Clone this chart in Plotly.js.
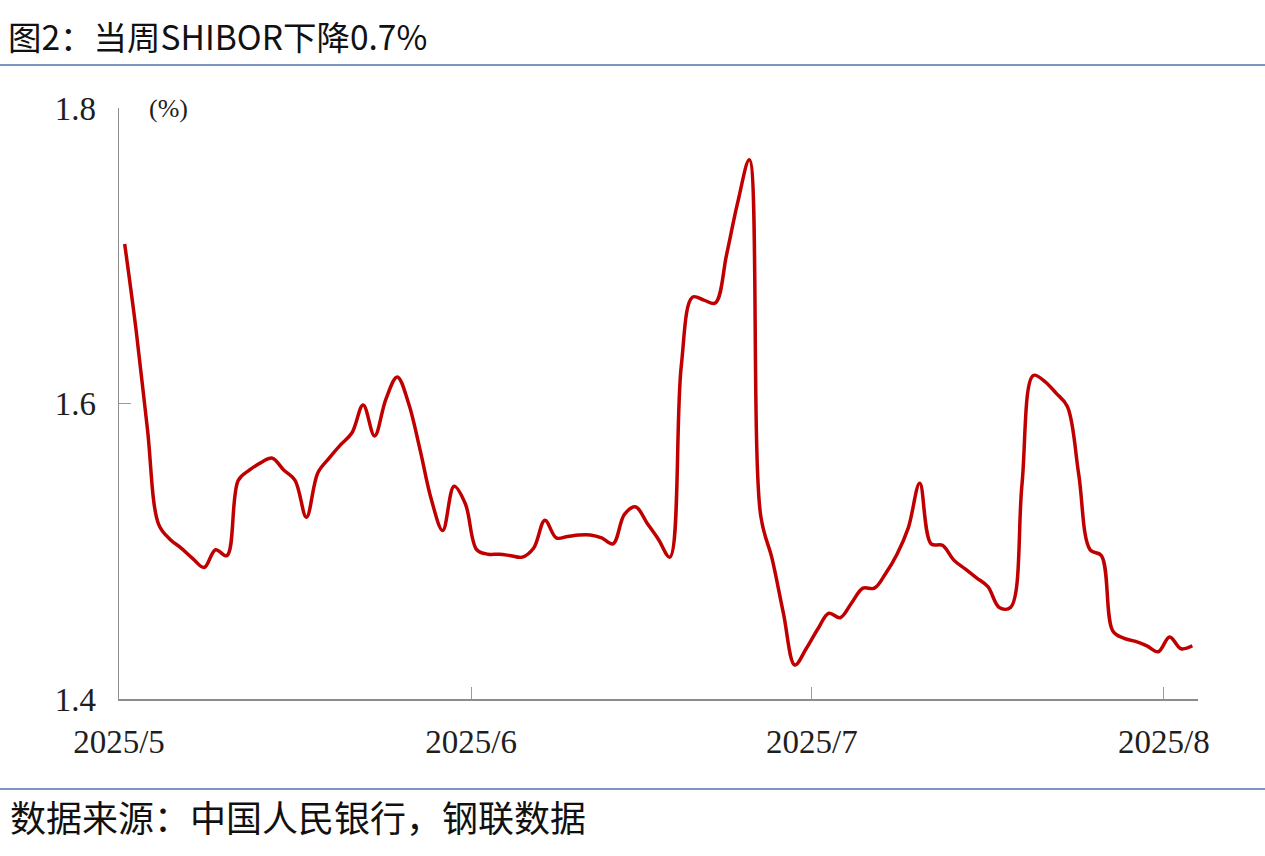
<!DOCTYPE html>
<html>
<head>
<meta charset="utf-8">
<script src="https://cdn.plot.ly/plotly-3.0.1.min.js"></script>
<style>
  html, body { margin: 0; padding: 0; background: #ffffff; }
  #chart { width: 1265px; height: 856px; }
</style>
</head>
<body>
<div id="chart"></div>
<script>
// ---- data (daily, 2025-05-01 .. 2025-08-03) ----
const startDate = '2025-05-01';
const shibor = [
  1.708, 1.650, 1.583, 1.518, 1.508, 1.502, 1.495, 1.489, 1.501, 1.497,
  1.548, 1.555, 1.560, 1.563, 1.555, 1.548, 1.523, 1.553, 1.563, 1.572,
  1.580, 1.599, 1.578, 1.603, 1.618, 1.600, 1.569, 1.535, 1.514, 1.544,
  1.532, 1.501, 1.498, 1.498, 1.497, 1.496, 1.502, 1.521, 1.509, 1.510,
  1.511, 1.511, 1.509, 1.505, 1.525, 1.530, 1.519, 1.508, 1.496, 1.625,
  1.672, 1.670, 1.668, 1.701, 1.737, 1.765, 1.524, 1.495, 1.458, 1.423,
  1.434, 1.447, 1.458, 1.455, 1.465, 1.475, 1.475, 1.485, 1.498, 1.516,
  1.546, 1.505, 1.504, 1.494, 1.488, 1.482, 1.476, 1.462, 1.462, 1.545,
  1.619, 1.615, 1.607, 1.598, 1.552, 1.501, 1.497, 1.446, 1.441, 1.439,
  1.436, 1.432, 1.442, 1.434, 1.436
];
const tickDates = ['2025-05-01', '2025-06-01', '2025-07-01', '2025-08-01'];
const tickLabels = ['2025/5', '2025/6', '2025/7', '2025/8'];
const yTicks = [1.4, 1.6, 1.8];
const yTickLabels = ['1.4', '1.6', '1.8'];
const titleText = '图2：当周SHIBOR下降0.7%';
const sourceText = '数据来源：中国人民银行，钢联数据';
const unitText = '(%)';

// build daily date strings (points sit mid-day, as in the source chart)
function dayString(base, k) {
  const d = new Date(base + 'T00:00:00Z');
  d.setUTCDate(d.getUTCDate() + k);
  return d.toISOString().slice(0, 10) + ' 12:00';
}
const dates = shibor.map((_, k) => dayString(startDate, k));

// ---- layout geometry ----
const W = 1265, H = 856;
const L = 119, R = 1198, T = 108, B = 699;
const pw = R - L, ph = B - T;
const px = x => (x - L) / pw;
const py = y => (B - y) / ph;

const serif = 'Liberation Serif, Times New Roman, serif';
const cjk = 'Noto Sans CJK SC, sans-serif';

const trace = {
  x: dates,
  y: shibor,
  type: 'scatter',
  mode: 'lines',
  line: { color: '#c00000', width: 3.5, shape: 'spline', smoothing: 1 },
  hoverinfo: 'x+y'
};

const layout = {
  width: W, height: H,
  margin: { l: L, r: W - R, t: T, b: H - B, pad: 0 },
  paper_bgcolor: '#ffffff',
  plot_bgcolor: '#ffffff',
  showlegend: false,
  title: {
    text: titleText,
    font: { family: cjk, size: 33.5, color: '#111111' },
    x: 8 / W, xanchor: 'left', xref: 'container',
    y: 1 - 38 / H, yanchor: 'middle', yref: 'container'
  },
  xaxis: {
    type: 'date',
    range: ['2025-05-01', '2025-08-04'],
    tickvals: tickDates,
    ticktext: tickLabels,
    ticks: 'inside', ticklen: 12, tickwidth: 1, tickcolor: '#9a9a9a',
    showline: true, linecolor: '#8c8c8c', linewidth: 1.5,
    showgrid: false, zeroline: false,
    ticklabelstandoff: 13,
    tickfont: { family: serif, size: 33, color: '#1e1e1e' }
  },
  yaxis: {
    range: [1.4, 1.8],
    tickvals: yTicks,
    ticktext: yTickLabels,
    ticks: 'inside', ticklen: 12, tickwidth: 1, tickcolor: '#9a9a9a',
    showline: true, linecolor: '#8c8c8c', linewidth: 1.5,
    showgrid: false, zeroline: false,
    ticklabelstandoff: 15,
    tickfont: { family: serif, size: 33, color: '#1e1e1e' }
  },
  shapes: [
    { type: 'line', xref: 'paper', yref: 'paper',
      x0: px(0), x1: px(W), y0: py(65), y1: py(65),
      line: { color: '#4f74ad', width: 1.5 } },
    { type: 'line', xref: 'paper', yref: 'paper',
      x0: px(0), x1: px(W), y0: py(789), y1: py(789),
      line: { color: '#4f74ad', width: 1.5 } }
  ],
  annotations: [
    { text: unitText, xref: 'paper', yref: 'paper',
      x: px(147), y: py(108), xanchor: 'left', yanchor: 'middle',
      showarrow: false, font: { family: serif, size: 26, color: '#1e1e1e' } },
    { text: sourceText, xref: 'paper', yref: 'paper',
      x: px(8), y: py(816), xanchor: 'left', yanchor: 'middle',
      showarrow: false, font: { family: cjk, size: 36, color: '#111111' } }
  ]
};

Plotly.newPlot('chart', [trace], layout, { displayModeBar: false, staticPlot: true });
</script>
</body>
</html>
